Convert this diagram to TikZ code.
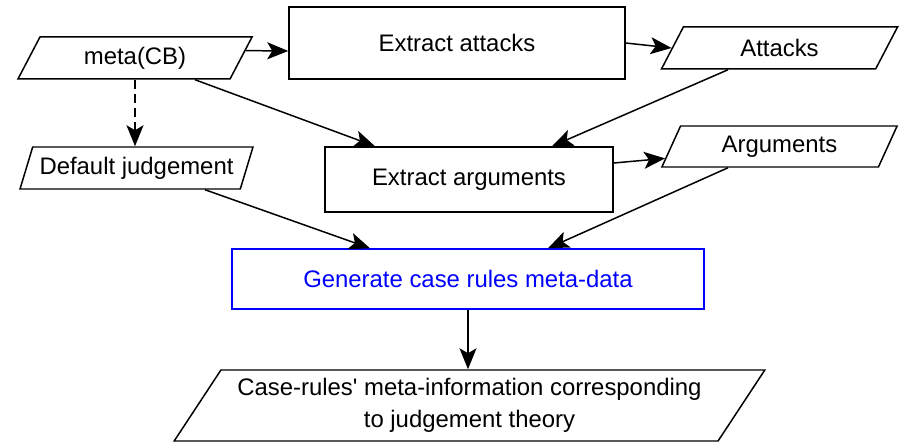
\documentclass[tikz,border=0pt]{standalone}
\usepackage{fontspec}
\setmainfont{Liberation Sans}
\usepackage{tikz}
\usetikzlibrary{calc, shapes.geometric}
\usetikzlibrary{arrows.meta}
\tikzset{>={Stealth[width=3.4mm,length=4.2mm,inset=1mm]}}
\definecolor{genblue}{RGB}{0,0,255}

\begin{document}
\begin{tikzpicture}[
    line width = 0.85pt,
    every node/.style = {font=\fontsize{13.6}{18}\selectfont, inner sep=0pt},
    proc/.style = {draw, rectangle, align=center},
    data/.style = {draw, trapezium, trapezium stretches=true,
        trapezium left angle=62, trapezium right angle=118,
        minimum width=4.7cm, minimum height=0.84cm, align=center},
    flow/.style = {->}
  ]
  \useasboundingbox (0,0) rectangle (18.1,8.86);

  \node[data] (META) at (2.70,7.70) {meta(CB)};
  \node[proc, minimum width=6.72cm, minimum height=1.44cm] (EATT) at (9.14,8.00) {Extract attacks};
  \node[data, minimum width=4.74cm, trapezium left angle=63, trapezium right angle=117] (ATT) at (15.59,7.90) {Attacks};
  \node[data, minimum width=4.66cm] (DFLT) at (2.73,5.50) {Default judgement};
  \node[proc, minimum width=5.76cm, minimum height=1.30cm] (EARG) at (9.38,5.27) {Extract arguments};
  \node[data, minimum width=4.74cm, minimum height=0.82cm, trapezium left angle=63, trapezium right angle=117] (ARGS) at (15.59,5.93) {Arguments};
  \node[proc, draw=genblue, text=genblue, minimum width=9.44cm, minimum height=1.20cm] (GEN) at (9.36,3.28) {Generate case rules meta-data};
  \node[data, minimum width=11.86cm, minimum height=1.42cm,
        trapezium left angle=51, trapezium right angle=129] (FIN) at (9.39,0.75)
        {Case-rules\textquotesingle\ meta-information corresponding\\to judgement theory};

  % connectors
  \draw[flow] ($(META.bottom right corner)!0.67!(META.top right corner)$) -- ([yshift=-0.16cm]EATT.west);
  \draw[flow] (EATT.east) -- (ATT.west);
  \draw[flow, dash pattern=on 5pt off 3pt] (META.south) -- (META.south |- DFLT.north);
  \draw[flow] ([xshift=1.2cm]META.south) -- ([xshift=-1.88cm]EARG.north);
  \draw[flow] ([xshift=-1.03cm]ATT.south) -- ([xshift=1.66cm]EARG.north);
  \draw[flow] ([yshift=0.33cm]EARG.east) -- ($(ARGS.bottom left corner)!0.22!(ARGS.top left corner)$);
  \draw[flow] ([xshift=1.37cm]DFLT.south) -- ([xshift=-1.96cm]GEN.north);
  \draw[flow] ([xshift=-1.03cm]ARGS.south) -- ([xshift=1.6cm]GEN.north);
  \draw[flow] (GEN.south) -- (GEN.south |- FIN.north);
\end{tikzpicture}
\end{document}
